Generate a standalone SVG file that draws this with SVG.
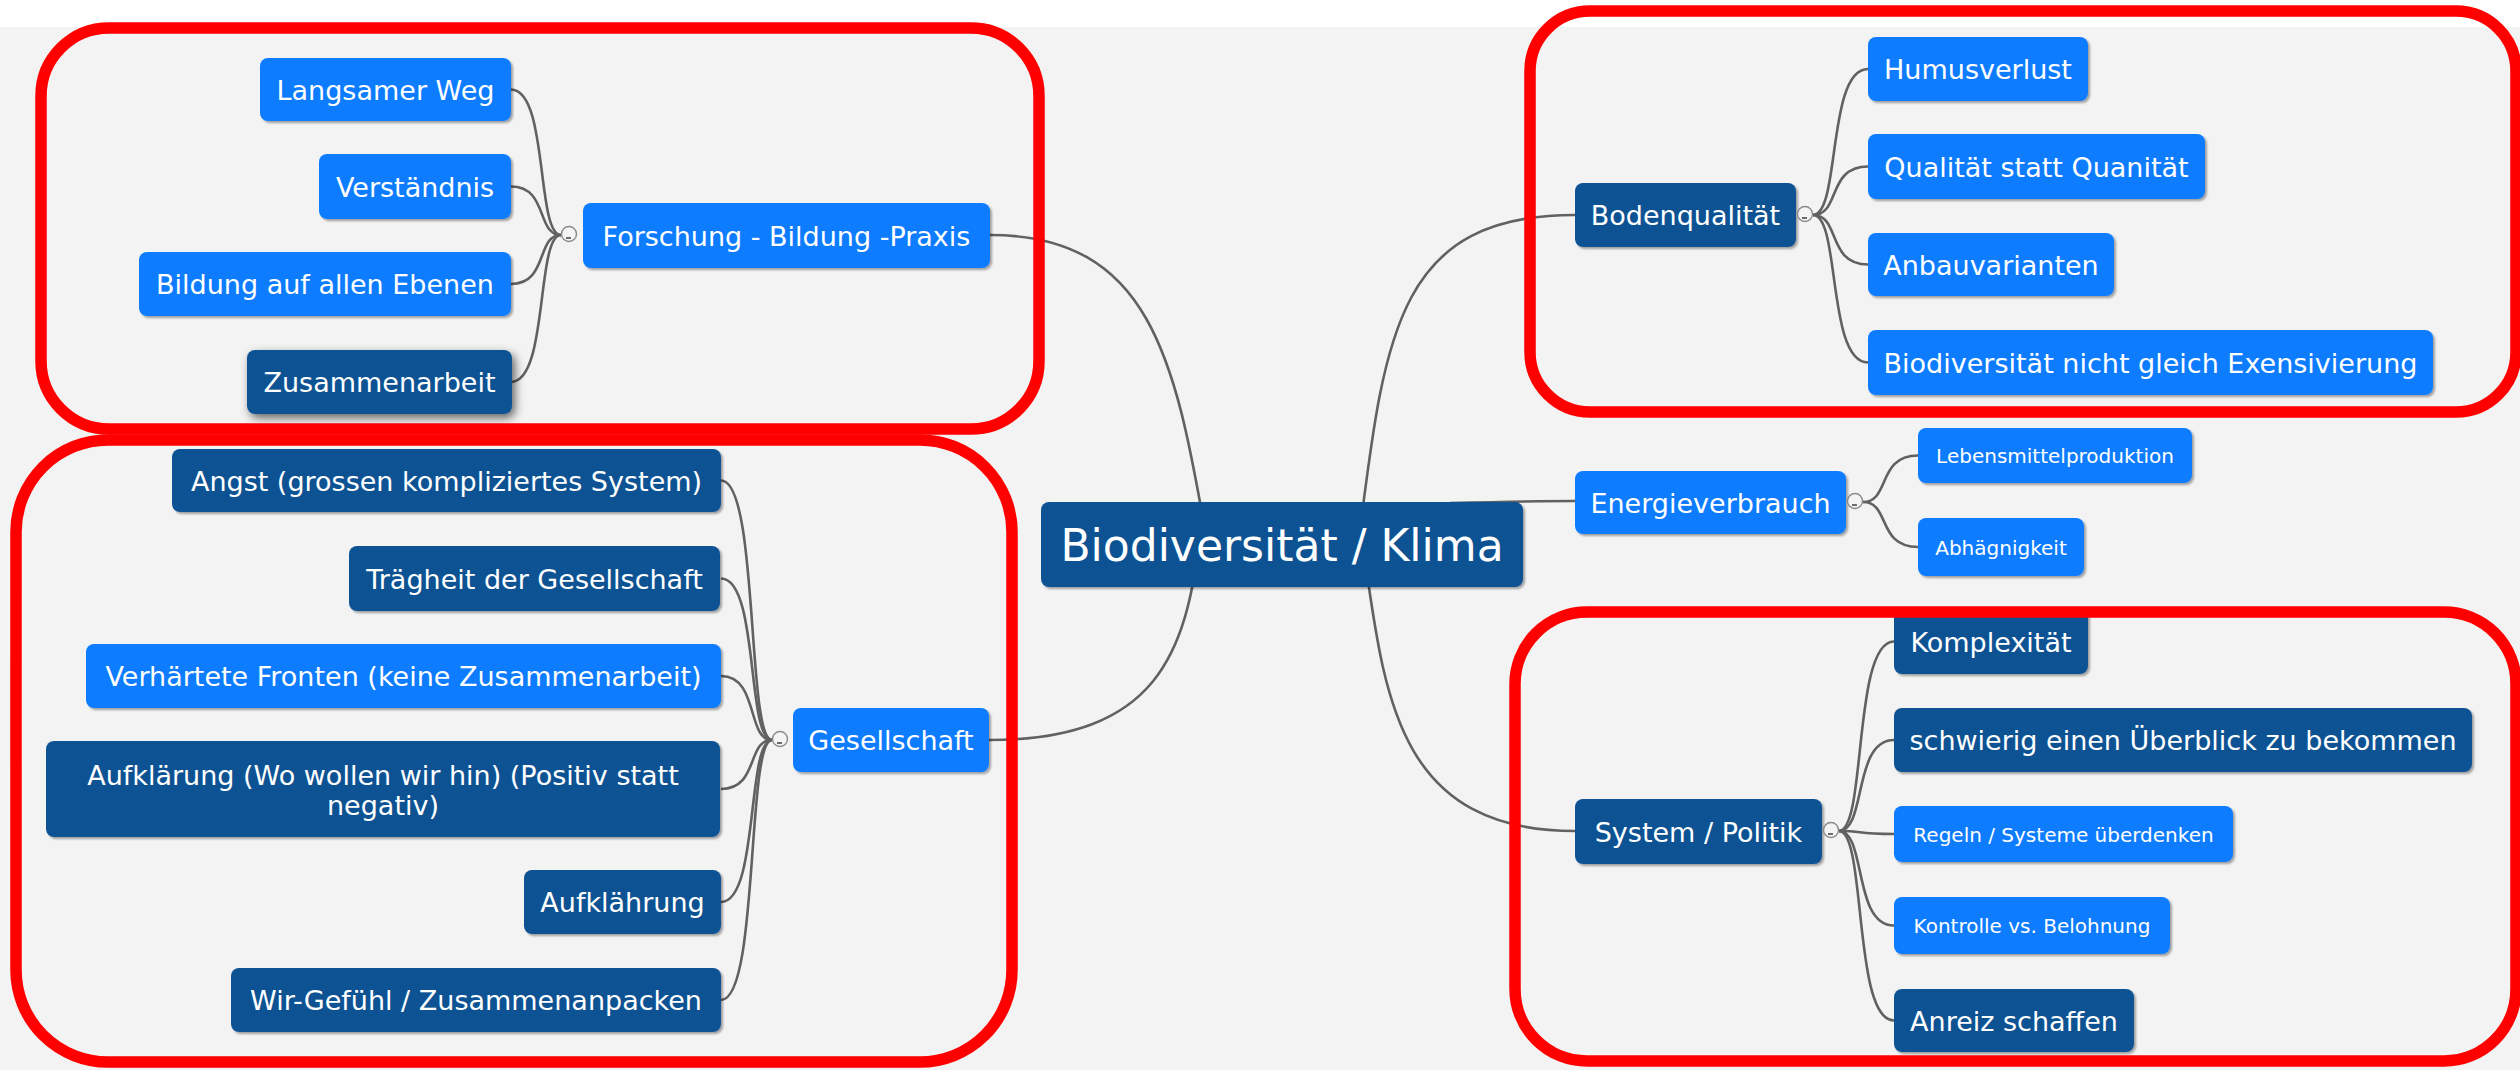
<svg xmlns="http://www.w3.org/2000/svg" width="2520" height="1070" viewBox="0 0 2520 1070">
<defs>
<style>
.n rect{rx:8;ry:8;filter:url(#sh)}
.L rect{fill:#0a7bff}
.D rect{fill:#0e5394}
.n text{fill:#fff;font-family:"DejaVu Sans",Verdana,sans-serif;font-size:27px;text-anchor:middle}
.n text.s{font-size:20px}
.c path{fill:none;stroke:#616161;stroke-width:2.6}
.tog circle{fill:#f4f4f4;stroke:#8a8a8a;stroke-width:1.4}
.tog line{stroke:#333;stroke-width:1.4}
.red rect{fill:none;stroke:#ff0000;stroke-width:11.5}
</style>
<filter id="sh" x="-10%" y="-20%" width="130%" height="160%">
<feDropShadow dx="2" dy="2" stdDeviation="1.2" flood-color="#000" flood-opacity="0.35"/>
</filter>
<filter id="sh2" x="-20%" y="-40%" width="150%" height="200%">
<feDropShadow dx="3" dy="4" stdDeviation="5" flood-color="#000" flood-opacity="0.6"/>
</filter>
</defs>
<rect x="0" y="0" width="2520" height="1070" fill="#ffffff"/>
<rect x="0" y="27" width="2520" height="1043" fill="#f3f3f3"/>

<g id="connectors" class="c">
<path d="M 990 235 C 1150 235, 1175 360, 1205 530"/>
<path d="M 989 740 C 1160 740, 1185 650, 1200 540"/>
<path d="M 1575 215 C 1400 215, 1385 330, 1360 530"/>
<path d="M 1575 501 C 1530 501, 1490 502, 1450 503"/>
<path d="M 1575 831 C 1400 831, 1385 700, 1365 560"/>

<path d="M 511 89.5 C 548.5 89.5, 536 235, 561 235"/>
<path d="M 511 186.5 C 548.5 186.5, 536 235, 561 235"/>
<path d="M 511 284 C 548.5 284, 536 235, 561 235"/>
<path d="M 511 382 C 548.5 382, 536 235, 561 235"/>

<path d="M 721 480.5 C 759 480.5, 746.5 740, 772 740"/>
<path d="M 721 578.5 C 759 578.5, 746.5 740, 772 740"/>
<path d="M 721 676 C 759 676, 746.5 740, 772 740"/>
<path d="M 721 789 C 759 789, 746.5 740, 772 740"/>
<path d="M 721 902 C 759 902, 746.5 740, 772 740"/>
<path d="M 721 1000 C 759 1000, 746.5 740, 772 740"/>

<path d="M 1868 69 C 1826.75 69, 1840.5 215, 1813 215"/>
<path d="M 1868 166.5 C 1826.75 166.5, 1840.5 215, 1813 215"/>
<path d="M 1868 264.5 C 1826.75 264.5, 1840.5 215, 1813 215"/>
<path d="M 1868 362.5 C 1826.75 362.5, 1840.5 215, 1813 215"/>

<path d="M 1918 455.5 C 1876.75 455.5, 1890.5 502, 1863 502"/>
<path d="M 1918 547 C 1876.75 547, 1890.5 502, 1863 502"/>

<path d="M 1894 641.5 C 1852.75 641.5, 1866.5 831, 1839 831"/>
<path d="M 1894 740 C 1852.75 740, 1866.5 831, 1839 831"/>
<path d="M 1894 834 C 1852.75 834, 1866.5 831, 1839 831"/>
<path d="M 1894 925.5 C 1852.75 925.5, 1866.5 831, 1839 831"/>
<path d="M 1894 1020.5 C 1852.75 1020.5, 1866.5 831, 1839 831"/>
</g>

<g id="root" class="n D"><rect x="1041" y="502" width="482" height="85"/><text x="1282" y="561" style="font-size:44px">Biodiversität / Klima</text></g>

<g id="forschung" class="n L"><rect x="583" y="203" width="407" height="65"/><text x="786.5" y="245.5">Forschung - Bildung -Praxis</text></g>
<g id="langsamer-weg" class="n L"><rect x="260" y="58" width="251" height="63"/><text x="385.5" y="99.5">Langsamer Weg</text></g>
<g id="verstaendnis" class="n L"><rect x="319" y="154" width="192" height="65"/><text x="415" y="196.5">Verständnis</text></g>
<g id="bildung" class="n L"><rect x="139" y="252" width="372" height="64"/><text x="325" y="294">Bildung auf allen Ebenen</text></g>
<g id="zusammenarbeit" class="n D"><rect x="247" y="350" width="265" height="64" style="filter:url(#sh2)"/><text x="379.5" y="392">Zusammenarbeit</text></g>

<g id="gesellschaft" class="n L"><rect x="793" y="708" width="196" height="64"/><text x="891" y="750">Gesellschaft</text></g>
<g id="angst" class="n D"><rect x="172" y="449" width="549" height="63"/><text x="446.5" y="490.5">Angst (grossen kompliziertes System)</text></g>
<g id="traegheit" class="n D"><rect x="349" y="546" width="371" height="65"/><text x="534.5" y="588.5">Trägheit der Gesellschaft</text></g>
<g id="verhaertete" class="n L"><rect x="86" y="644" width="635" height="64"/><text x="403.5" y="686">Verhärtete Fronten (keine Zusammenarbeit)</text></g>
<g id="aufklaerung" class="n D"><rect x="46" y="741" width="674" height="96"/><text x="383" y="785">Aufklärung (Wo wollen wir hin) (Positiv statt</text><text x="383" y="815">negativ)</text></g>
<g id="aufklaehrung" class="n D"><rect x="524" y="870" width="197" height="64"/><text x="622.5" y="912">Aufklährung</text></g>
<g id="wir-gefuehl" class="n D"><rect x="231" y="968" width="490" height="64"/><text x="476" y="1010">Wir-Gefühl / Zusammenanpacken</text></g>

<g id="bodenqualitaet" class="n D"><rect x="1575" y="183" width="221" height="64"/><text x="1685.5" y="225">Bodenqualität</text></g>
<g id="humusverlust" class="n L"><rect x="1868" y="37" width="220" height="64"/><text x="1978" y="79">Humusverlust</text></g>
<g id="qualitaet" class="n L"><rect x="1868" y="134" width="337" height="65"/><text x="2036.5" y="176.5">Qualität statt Quanität</text></g>
<g id="anbauvarianten" class="n L"><rect x="1868" y="233" width="246" height="63"/><text x="1991" y="274.5">Anbauvarianten</text></g>
<g id="biodiv-nicht" class="n L"><rect x="1868" y="330" width="565" height="65"/><text x="2150.5" y="372.5">Biodiversität nicht gleich Exensivierung</text></g>

<g id="energieverbrauch" class="n L"><rect x="1575" y="471" width="271" height="63"/><text x="1710.5" y="512.5">Energieverbrauch</text></g>
<g id="lebensmittel" class="n L"><rect x="1918" y="428" width="274" height="55"/><text class="s" x="2055" y="463">Lebensmittelproduktion</text></g>
<g id="abhaegnigkeit" class="n L"><rect x="1918" y="518" width="166" height="58"/><text class="s" x="2001" y="554.5">Abhägnigkeit</text></g>

<g id="system-politik" class="n D"><rect x="1575" y="799" width="247" height="65"/><text x="1698.5" y="841.5">System / Politik</text></g>
<g id="komplexitaet" class="n D"><rect x="1894" y="609" width="194" height="65"/><text x="1991" y="651.5">Komplexität</text></g>
<g id="schwierig" class="n D"><rect x="1894" y="708" width="578" height="64"/><text x="2183" y="750">schwierig einen Überblick zu bekommen</text></g>
<g id="regeln" class="n L"><rect x="1894" y="806" width="339" height="56"/><text class="s" x="2063.5" y="841.5">Regeln / Systeme überdenken</text></g>
<g id="kontrolle" class="n L"><rect x="1894" y="897" width="276" height="57"/><text class="s" x="2032" y="933">Kontrolle vs. Belohnung</text></g>
<g id="anreiz" class="n D"><rect x="1894" y="989" width="240" height="63"/><text x="2014" y="1030.5">Anreiz schaffen</text></g>

<g id="toggles" class="tog">
<circle cx="569" cy="234" r="7.5"/><line x1="566" y1="238" x2="571" y2="238"/>
<circle cx="780" cy="739" r="7.5"/><line x1="777" y1="743" x2="782" y2="743"/>
<circle cx="1805" cy="214" r="7.5"/><line x1="1802" y1="218" x2="1807" y2="218"/>
<circle cx="1855" cy="501" r="7.5"/><line x1="1852" y1="505" x2="1857" y2="505"/>
<circle cx="1831" cy="830" r="7.5"/><line x1="1828" y1="834" x2="1833" y2="834"/>
</g>

<g id="highlights" class="red">
<rect x="41" y="28" width="998" height="401" rx="68" ry="68"/>
<rect x="16" y="440" width="996" height="622" rx="92" ry="92"/>
<rect x="1530" y="11" width="986" height="401" rx="60" ry="60"/>
<rect x="1515" y="612" width="1001" height="449" rx="72" ry="72"/>
</g>
</svg>
